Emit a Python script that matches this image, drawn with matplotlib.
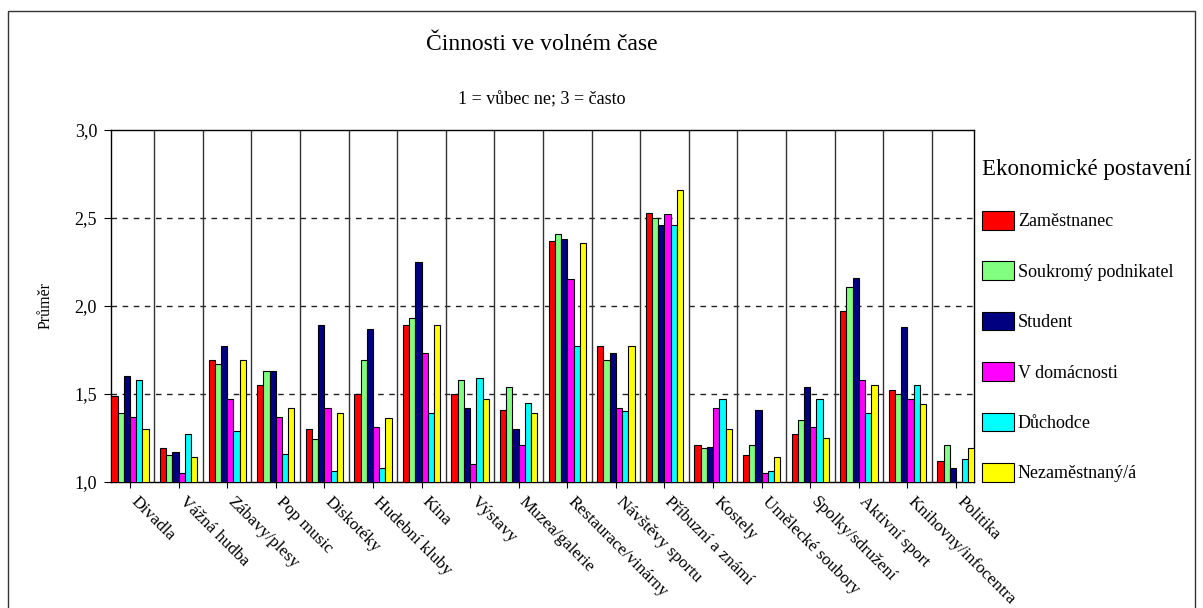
import numpy as np
import matplotlib
matplotlib.use("Agg")
import matplotlib.pyplot as plt
from matplotlib.patches import Rectangle

plt.rcParams['font.family'] = ['Liberation Serif', 'DejaVu Serif']

categories = ['Divadla', 'Vážná hudba', 'Zábavy/plesy', 'Pop music', 'Diskotéky',
              'Hudební kluby', 'Kina', 'Výstavy', 'Muzea/galerie', 'Restaurace/vinárny',
              'Návštěvy sportu', 'Příbuzní a známí', 'Kostely', 'Umělecké soubory',
              'Spolky/sdružení', 'Aktivní sport', 'Knihovny/infocentra', 'Politika']

zamestnanec = [1.49, 1.19, 1.69, 1.55, 1.30, 1.50, 1.89, 1.50, 1.41, 2.37, 1.77, 2.53, 1.21, 1.15, 1.27, 1.97, 1.52, 1.12]
soukromy = [1.39, 1.15, 1.67, 1.63, 1.24, 1.69, 1.93, 1.58, 1.54, 2.41, 1.69, 2.50, 1.19, 1.21, 1.35, 2.11, 1.50, 1.21]
student = [1.60, 1.17, 1.77, 1.63, 1.89, 1.87, 2.25, 1.42, 1.30, 2.38, 1.73, 2.46, 1.20, 1.41, 1.54, 2.16, 1.88, 1.08]
domacnost = [1.37, 1.05, 1.47, 1.37, 1.42, 1.31, 1.73, 1.10, 1.21, 2.15, 1.42, 2.52, 1.42, 1.05, 1.31, 1.58, 1.47, 1.00]
duchodce = [1.58, 1.27, 1.29, 1.16, 1.06, 1.08, 1.39, 1.59, 1.45, 1.77, 1.40, 2.46, 1.47, 1.06, 1.47, 1.39, 1.55, 1.13]
nezamestnany = [1.30, 1.14, 1.69, 1.42, 1.39, 1.36, 1.89, 1.47, 1.39, 2.36, 1.77, 2.66, 1.30, 1.14, 1.25, 1.55, 1.44, 1.19]

series_names = ['Zaměstnanec', 'Soukromý podnikatel', 'Student', 'V domácnosti', 'Důchodce', 'Nezaměstnaný/á']
series_values = [zamestnanec, soukromy, student, domacnost, duchodce, nezamestnany]
colors = ['#FF0000', '#80FF80', '#000080', '#FF00FF', '#00FFFF', '#FFFF00']

yticks = [1.0, 1.5, 2.0, 2.5, 3.0]
ytick_labels = ['1,0', '1,5', '2,0', '2,5', '3,0']

W, H = 1203, 608
fig = plt.figure(figsize=(W / 100, H / 100), dpi=100)
ax = fig.add_axes([111 / W, 1 - 481.7 / H, (974 - 111) / W, (481.7 - 130) / H])

x = np.arange(len(categories))
bw = 0.128
handles = []
for i, (name, vals, c) in enumerate(zip(series_names, series_values, colors)):
    b = ax.bar(x + (i - 2.5) * bw, vals, width=bw, color=c, edgecolor='black',
               linewidth=0.8, label=name, zorder=3)
    handles.append(b)

ax.set_ylim(1.0, 3.0)
ax.set_xlim(-0.391, 17.37)
ax.set_yticks(yticks)
ax.set_yticklabels(ytick_labels, fontsize=13)
ax.set_xticks(x)
ax.set_xticklabels(categories, fontsize=12.5, rotation=-45, ha='left', va='baseline',
                   rotation_mode='anchor')
ax.tick_params(axis='x', length=4, pad=10.5, direction='out')
ax.tick_params(axis='y', length=5, pad=5, direction='out')

for yv in [1.5, 2.0, 2.5]:
    ax.axhline(yv, color='#222222', linestyle=(0, (4, 4)), linewidth=1.0, zorder=1)
for xv in np.arange(0.5, len(categories) - 1, 1.0):
    ax.axvline(xv, color='#333333', linewidth=1.0, zorder=1)

for s in ax.spines.values():
    s.set_linewidth(1.0)
    s.set_color('black')

ax.set_ylabel('Průměr', fontsize=11.5, labelpad=15)

fig.text(541.7 / W, 1 - 45 / H, 'Činnosti ve volném čase', fontsize=17,
         ha='center', va='center')
fig.text(541.7 / W, 1 - 100 / H, '1 = vůbec ne; 3 = často', fontsize=13,
         ha='center', va='center')

leg = fig.legend(handles=handles, labels=series_names, loc='upper left',
                 bbox_to_anchor=(982 / W, 1 - 159 / H), frameon=False,
                 fontsize=13, title='Ekonomické postavení', title_fontsize=16.5,
                 alignment='left', handlelength=1.77, handleheight=1.2,
                 labelspacing=1.72, handletextpad=0.22, borderpad=0,
                 borderaxespad=0)

fig.patches.append(Rectangle((8 / W, -0.05), (1195 - 8) / W, 1.05 - 11 / H,
                             transform=fig.transFigure, fill=False,
                             edgecolor='#333333', linewidth=1.0))

fig.savefig('out.png', dpi=100)
